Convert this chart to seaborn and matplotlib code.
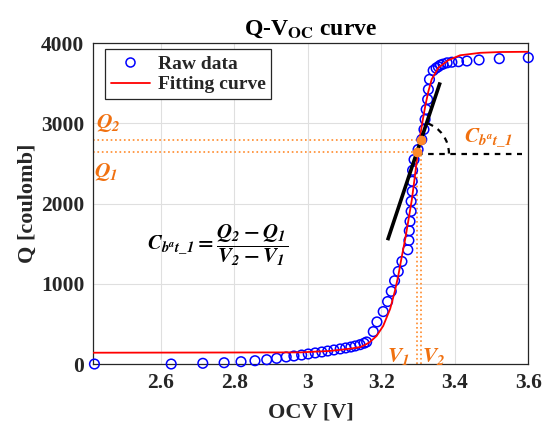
import matplotlib
matplotlib.use('Agg')
import matplotlib.pyplot as plt
import seaborn as sns
from matplotlib.lines import Line2D
from matplotlib.patches import Arc
from matplotlib.transforms import Affine2D, ScaledTranslation

# raw OCV / charge measurements
raw_v = [2.419, 2.628, 2.714, 2.772, 2.818, 2.856, 2.888, 2.915, 2.941, 2.962, 2.983, 3.001,
         3.020, 3.038, 3.054, 3.071, 3.088, 3.103, 3.117, 3.129, 3.142, 3.153, 3.160,
         3.178, 3.188, 3.205, 3.217, 3.227, 3.236, 3.246, 3.256, 3.272, 3.275, 3.276, 3.278,
         3.281, 3.281, 3.284, 3.284, 3.285, 3.289, 3.300, 3.310, 3.316, 3.319, 3.322, 3.326,
         3.328, 3.331, 3.341,
         3.349, 3.355, 3.361, 3.368, 3.379, 3.392, 3.410, 3.433, 3.466, 3.521, 3.600]
raw_q = [0, 0, 9, 16, 29, 41, 54, 71, 88, 100, 112, 125,
         138, 150, 162, 175, 188, 200, 212, 225, 241, 259, 275,
         404, 525, 654, 779, 906, 1038, 1154, 1279, 1425, 1541, 1662, 1779,
         1904, 2029, 2154, 2279, 2416, 2550, 2675, 2800, 2925, 3050, 3175, 3300,
         3425, 3550, 3660,
         3690, 3708, 3728, 3740, 3756, 3764, 3770, 3779, 3792, 3808, 3821]

# fitted curve
fit_v = [2.416, 2.979, 3.060, 3.115, 3.143, 3.158, 3.169, 3.187, 3.205, 3.224, 3.237, 3.246,
         3.255, 3.265, 3.273, 3.283, 3.291, 3.298, 3.305, 3.313, 3.320, 3.328, 3.337, 3.355,
         3.382, 3.414, 3.469, 3.523, 3.600]
fit_q = [141, 145, 163, 191, 212, 244, 275, 350, 475, 688, 912, 1100,
         1325, 1560, 1775, 2050, 2330, 2600, 2830, 3050, 3230, 3400, 3550, 3694,
         3788, 3850, 3881, 3891, 3894]

# the two points used for the capacity estimate
v1, q1 = 3.297, 2645
v2, q2 = 3.309, 2790

# tangent line and angle reference
tangent_v = [3.217, 3.360]
tangent_q = [1544, 3512]
ref_q = 2625
ref_v_end = 3.583

x_ticks = [2.6, 2.8, 3.0, 3.2, 3.4, 3.6]
x_ticklabels = ['2.6', '2.8', '3', '3.2', '3.4', '3.6']
y_ticks = [0, 1000, 2000, 3000, 4000]
x_lim = (2.416, 3.6)

orange_txt = '#F0700F'
orange_ln = '#FF8A2A'
ink = '#262626'

sns.set_style('whitegrid')
plt.rcParams['font.family'] = ['Liberation Serif', 'DejaVu Serif']
plt.rcParams['font.weight'] = 'bold'
plt.rcParams['mathtext.fontset'] = 'stix'

fig = plt.figure(figsize=(5.49, 4.26), dpi=100)
ax = fig.add_axes([0.170, 0.1455, 0.7923, 0.7529])

# orange guide lines for Q1/Q2, V1/V2
ax.hlines([q1, q2], x_lim[0], [v1, v2], colors=orange_ln, linestyles=':', lw=1.2, zorder=2)
ax.vlines([v1, v2], 0, [q1, q2], colors=orange_ln, linestyles=':', lw=1.2, zorder=2)

sns.scatterplot(x=raw_v, y=raw_q, ax=ax, marker='o', s=48, facecolor='none',
                edgecolor='#0000FF', linewidth=1.1, clip_on=False, zorder=3)
sns.lineplot(x=fit_v, y=fit_q, ax=ax, color='red', lw=1.3, estimator=None, sort=False, zorder=4)

ax.plot(tangent_v, tangent_q, color='k', lw=2.6, solid_capstyle='butt', zorder=5)
ax.hlines(ref_q, v1, ref_v_end, colors='k', linestyles=(0, (2.5, 2.5)), lw=1.6, zorder=5)

# angle arc drawn in points so it stays round
arc_tr = Affine2D().scale(fig.dpi / 72.0) + ScaledTranslation(v1, ref_q, ax.transData)
ax.add_patch(Arc((0, 0), 46, 46, theta1=0, theta2=71, transform=arc_tr, color='k',
                 lw=1.6, ls=(0, (2.5, 2.5)), zorder=5))

ax.plot([v1, v2], [q1, q2], 'o', color=orange_ln, ms=6, zorder=6)

cbat = r'\mathbfit{C}_{\mathbfit{b}^{\mathbfit{a}}\mathbfit{t}\_\mathbfit{1}}'
ax.text(2.458, 3000, r'$\mathbfit{Q}_{\mathbfit{2}}$', color=orange_txt, fontsize=15.5,
        ha='center', va='center')
ax.text(2.452, 2400, r'$\mathbfit{Q}_{\mathbfit{1}}$', color=orange_txt, fontsize=15.5,
        ha='center', va='center')
ax.text(3.247, 94, r'$\mathbfit{V}_{\mathbfit{1}}$', color=orange_txt, fontsize=15.5,
        ha='center', va='center')
ax.text(3.343, 94, r'$\mathbfit{V}_{\mathbfit{2}}$', color=orange_txt, fontsize=15.5,
        ha='center', va='center')
ax.text(3.49, 2825, '$' + cbat + '$', color=orange_txt, fontsize=15.5, ha='center', va='center')
ax.text(2.754, 1487,
        '$' + cbat + r' = \dfrac{\mathbfit{Q}_{\mathbfit{2}} - \mathbfit{Q}_{\mathbfit{1}}}'
        r'{\mathbfit{V}_{\mathbfit{2}} - \mathbfit{V}_{\mathbfit{1}}}$',
        color='k', fontsize=15, ha='center', va='center')

ax.set_xlim(*x_lim)
ax.set_ylim(0, 4000)
ax.set_xticks(x_ticks)
ax.set_xticklabels(x_ticklabels)
ax.set_yticks(y_ticks)
ax.tick_params(direction='out', length=3.5, width=0.8, color=ink, labelcolor=ink,
               labelsize=15.5, pad=3)
ax.grid(True, color='#DFDFDF', lw=0.8)
for s in ax.spines.values():
    s.set_color(ink)
    s.set_linewidth(0.9)

ax.set_xlabel('OCV [V]', fontsize=16, fontweight='bold', color=ink, labelpad=7)
ax.set_ylabel('Q [coulomb]', fontsize=16, fontweight='bold', color=ink, labelpad=2)
ax.set_title(r'Q-V$_{\mathbf{OC}}$ curve', fontsize=17, fontweight='bold', color='k', pad=6)

handles = [Line2D([], [], marker='o', ls='none', mfc='none', mec='#0000FF', ms=6.5, mew=1.1),
           Line2D([], [], color='red', lw=1.3)]
leg = ax.legend(handles, ['Raw data', 'Fitting curve'], loc='upper left',
                bbox_to_anchor=(0.027, 0.981), borderaxespad=0, fancybox=False,
                framealpha=1, edgecolor=ink, fontsize=14, labelspacing=0.15,
                handlelength=2.0, handletextpad=0.4, borderpad=0.3)
leg.get_frame().set_linewidth(0.9)
leg.set_zorder(10)

fig.savefig('out.png', dpi=100)
